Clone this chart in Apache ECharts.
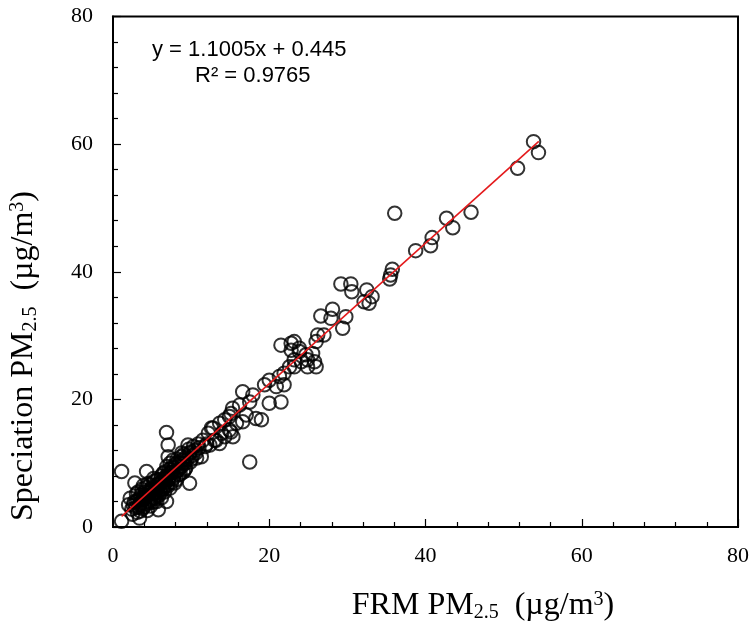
<!DOCTYPE html>
<html>
<head>
<meta charset="utf-8">
<script src="https://cdn.jsdelivr.net/npm/echarts@6/dist/echarts.min.js"></script>
<style>
  html, body { margin: 0; padding: 0; background: #fff; }
  #chart { width: 752px; height: 625px; }
</style>
</head>
<body>
<div id="chart"></div>
<script>
// Paired samples [FRM PM2.5, Speciation PM2.5] in µg/m³
const lowRange = [
  [1.1, 0.9], [1.1, 8.7], [2.0, 3.5], [2.2, 4.5], [2.4, 2.8], [2.5, 2.0], [2.6, 3.4], [2.7, 3.9],
  [2.8, 6.9], [2.9, 3.0], [3.0, 4.0], [3.0, 5.2], [3.1, 2.3], [3.2, 5.5], [3.2, 4.2], [3.3, 3.1],
  [3.4, 1.4], [3.4, 3.5], [3.5, 4.6], [3.5, 2.5], [3.6, 3.8], [3.6, 5.0], [3.7, 5.9], [3.8, 2.9],
  [3.8, 4.5], [3.9, 4.3], [3.9, 6.5], [4.0, 5.0], [4.0, 3.2], [4.1, 3.6], [4.1, 4.7], [4.2, 6.2],
  [4.2, 5.5], [4.3, 8.7], [4.3, 4.8], [4.4, 2.6], [4.4, 4.0], [4.5, 5.3], [4.5, 6.8], [4.6, 4.1],
  [4.6, 5.0], [4.7, 6.6], [4.7, 3.8], [4.8, 3.3], [4.8, 5.9], [4.9, 5.7], [4.9, 4.4], [5.0, 4.9],
  [5.0, 6.3], [5.1, 6.0], [5.1, 5.2], [5.2, 3.9], [5.2, 7.6], [5.3, 7.2], [5.3, 4.6], [5.4, 5.4],
  [5.4, 6.0], [5.5, 4.4], [5.5, 5.6], [5.6, 6.5], [5.6, 4.0], [5.7, 5.1], [5.7, 7.4], [5.8, 2.7],
  [5.8, 6.2], [5.9, 6.9], [5.9, 5.0], [6.0, 5.8], [6.0, 6.8], [6.1, 7.5], [6.1, 5.4], [6.2, 4.6],
  [6.2, 8.0], [6.3, 6.3], [6.3, 7.2], [6.4, 8.4], [6.4, 5.9], [6.5, 7.0], [6.5, 6.2], [6.6, 5.5],
  [6.6, 8.6], [6.7, 7.8], [6.7, 6.9], [6.8, 7.6], [6.85, 4.0], [6.85, 14.8], [6.9, 6.6], [6.9, 9.5],
  [7.0, 8.2], [7.0, 6.4], [7.06, 12.85], [7.06, 11.0], [7.1, 7.4], [7.2, 9.0], [7.2, 7.8], [7.3, 6.1],
  [7.3, 10.0], [7.4, 8.6], [7.5, 7.0], [7.5, 8.5], [7.6, 9.4], [7.7, 10.5], [7.7, 7.6], [7.8, 8.0],
  [7.8, 9.2], [7.9, 6.9], [8.0, 9.8], [8.0, 8.6], [8.1, 7.4], [8.2, 8.8], [8.2, 10.6], [8.3, 10.2],
  [8.4, 9.0], [8.4, 8.2], [8.5, 10.0], [8.6, 8.3], [8.6, 9.6], [8.7, 11.0], [8.8, 9.5], [8.8, 11.6],
  [8.9, 10.5], [9.0, 8.6], [9.0, 10.0], [9.1, 11.4], [9.2, 10.0], [9.2, 9.0], [9.3, 9.2], [9.4, 11.0],
  [9.5, 10.6], [9.6, 12.85], [9.7, 12.2], [9.8, 11.55], [9.8, 6.85], [9.9, 10.2], [10.0, 11.8], [10.0, 10.6]
];
const midRange = [
  [10.2, 11.2], [10.3, 12.6], [10.5, 12.0], [10.6, 11.6], [10.7, 10.8], [10.9, 13.0], [11.0, 12.4],
  [11.3, 11.0], [11.5, 13.6], [11.8, 12.6], [12.0, 13.0], [12.2, 14.7], [12.4, 12.85], [12.6, 15.5],
  [12.8, 15.5], [13.0, 13.6], [13.2, 13.6], [13.65, 16.25], [13.65, 13.1], [13.9, 14.7], [14.3, 14.15],
  [14.3, 16.8], [14.9, 15.2], [14.9, 17.3], [15.1, 14.9], [15.1, 17.8], [15.3, 18.6], [15.35, 14.15],
  [15.8, 16.25], [16.2, 19.1], [16.6, 21.2], [16.6, 16.5], [17.05, 17.55], [17.5, 19.6], [17.5, 10.2],
  [17.9, 20.7], [18.3, 17.0], [19.0, 16.8], [19.4, 22.3], [20.0, 23.0], [20.0, 19.4], [20.9, 22.0],
  [21.3, 23.6], [21.5, 28.5], [21.5, 19.6], [21.9, 24.1], [21.9, 22.3], [22.6, 25.1], [22.8, 28.8],
  [22.8, 27.7], [23.2, 26.2], [23.2, 29.05], [23.2, 25.1], [23.85, 27.5], [23.85, 28.0], [24.1, 25.9],
  [24.7, 27.0], [24.9, 26.2], [24.9, 25.1], [25.55, 27.2], [25.8, 25.9], [26.0, 25.1], [26.0, 29.05],
  [26.2, 30.1], [26.6, 33.07], [27.0, 30.1], [27.9, 32.7], [28.1, 34.12], [29.4, 31.14], [29.8, 32.96]
];
const highRange = [
  [29.17, 38.09], [30.44, 38.09], [30.57, 36.88], [32.14, 35.31], [32.48, 37.15], [32.78, 35.06],
  [33.16, 36.1], [35.42, 38.87], [35.54, 39.5], [35.75, 40.39], [36.06, 49.17], [38.74, 43.31],
  [40.65, 44.09], [40.85, 45.35], [42.69, 48.39], [43.49, 46.91], [45.83, 49.33], [51.79, 56.22],
  [53.83, 60.39], [54.46, 58.67]
];

// Linear fit reported on the chart
const slope = 1.1005;
const intercept = 0.445;
const rSquared = 0.9765;
const fitRange = [1.1, 54.5];

const xTicks = [0, 20, 40, 60, 80];
const yTicks = [0, 20, 40, 60, 80];

const samples = lowRange.concat(midRange, highRange);
const fitLine = fitRange.map(x => [x, slope * x + intercept]);

const serif = "'Liberation Serif', 'Times New Roman', serif";
const sans = "'Liberation Sans', Arial, sans-serif";
const black = '#000';

const axisCommon = {
  type: 'value',
  min: 0,
  max: 80,
  interval: 20,
  splitLine: { show: false },
  axisLine: { show: true, onZero: false, lineStyle: { color: black, width: 2 } },
  axisTick: { show: true, inside: true, length: 8, lineStyle: { color: black, width: 1.2 } },
  minorTick: { show: true, splitNumber: 5, length: 5, lineStyle: { color: black, width: 1.2 } },
  axisLabel: { color: black, fontFamily: serif, fontSize: 22, margin: 18 }
};

const titleRich = {
  n: { fontFamily: serif, fontSize: 32, color: black, lineHeight: 38, verticalAlign: 'middle' },
  s: { fontFamily: serif, fontSize: 20, color: black, lineHeight: 38, verticalAlign: 'bottom', padding: [0, 0, 2, 0] },
  p: { fontFamily: serif, fontSize: 20, color: black, lineHeight: 38, verticalAlign: 'top', padding: [3, 0, 0, 0] }
};
const titleText = (label) => '{n|' + label + ' PM}{s|2.5}{n|  (µg/m}{p|3}{n|)}';

const chart = echarts.init(document.getElementById('chart'), null, { renderer: 'canvas' });
chart.setOption({
  animation: false,
  backgroundColor: '#fff',
  grid: {
    left: 113, top: 16.5, right: 11.5, bottom: 98,
    show: true, borderColor: black, borderWidth: 2, backgroundColor: 'transparent'
  },
  xAxis: Object.assign({}, axisCommon, {
    axisLabel: Object.assign({}, axisCommon.axisLabel, {
      formatter: v => (xTicks.indexOf(v) >= 0 ? String(v) : '')
    })
  }),
  yAxis: Object.assign({}, axisCommon, {
    axisLabel: Object.assign({}, axisCommon.axisLabel, {
      margin: 20,
      formatter: v => (yTicks.indexOf(v) >= 0 ? String(v) : '')
    })
  }),
  series: [
    {
      type: 'scatter',
      data: samples,
      symbol: 'circle',
      symbolSize: 13.5,
      itemStyle: { color: 'rgba(0,0,0,0)', borderColor: black, borderWidth: 2 },
      z: 2
    },
    {
      type: 'line',
      data: fitLine,
      symbol: 'none',
      lineStyle: { color: '#e41a1c', width: 1.6 },
      z: 3
    }
  ],
  graphic: [
    {
      type: 'text', left: 152, top: 39,
      style: { text: 'y = ' + slope.toFixed(4) + 'x + ' + intercept.toFixed(3), fontFamily: sans, fontSize: 22, fill: black }
    },
    {
      type: 'text', left: 195, top: 65,
      style: { text: 'R² = ' + rSquared.toFixed(4), fontFamily: sans, fontSize: 22, fill: black }
    },
    {
      type: 'text', x: 483, y: 606,
      style: { text: titleText('FRM'), rich: titleRich, align: 'center', verticalAlign: 'middle' }
    },
    {
      type: 'text', x: 24, y: 356, rotation: Math.PI / 2,
      style: { text: titleText('Speciation'), rich: titleRich, align: 'center', verticalAlign: 'middle' }
    }
  ]
});
</script>
</body>
</html>
